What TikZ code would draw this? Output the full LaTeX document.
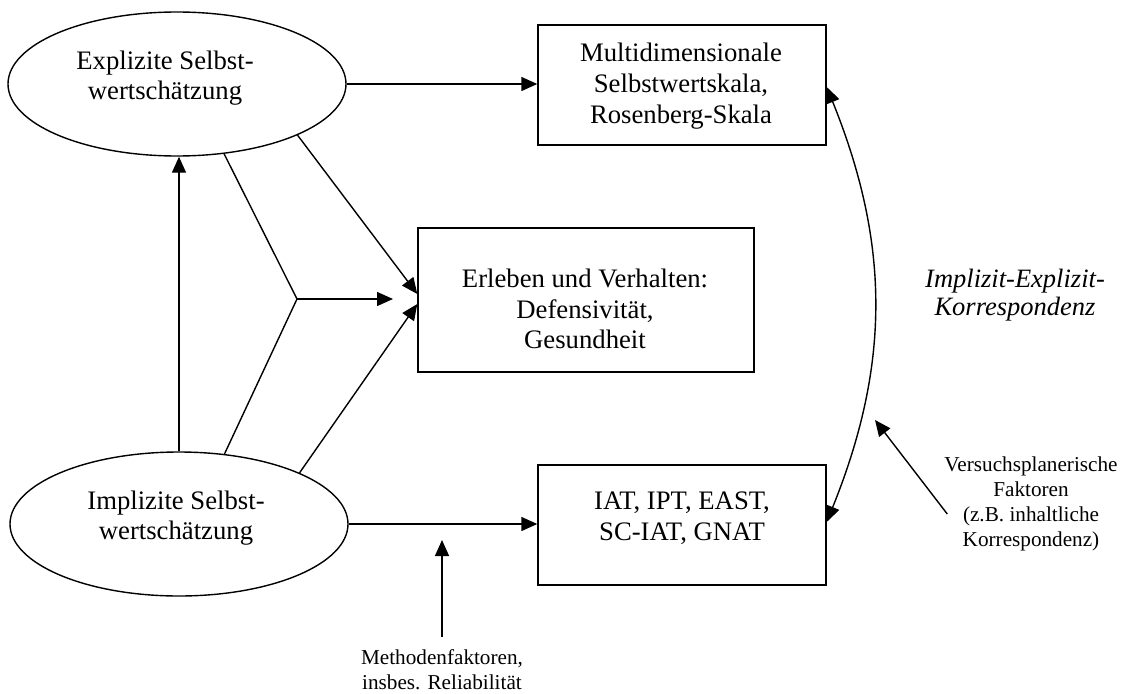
\documentclass[tikz,border=0pt]{standalone}
\usepackage{fontspec}
\setmainfont{Liberation Serif}
\usetikzlibrary{arrows.meta,shapes.geometric,calc}
\begin{document}
\begin{tikzpicture}[x=1pt,y=-1pt,
  lw/.style={line width=1.4pt},
  arr/.style={lw,-{Triangle[length=16pt,width=14pt]}},
  darr/.style={lw,{Triangle[length=16pt,width=14pt]}-{Triangle[length=16pt,width=14pt]}},
  ell/.style={draw,lw,ellipse,minimum width=338pt,minimum height=144pt,inner sep=0pt},
  boxs/.style={draw,lw,rectangle,inner sep=0pt},
  big/.style={align=center,font=\fontsize{26.7}{30.7}\selectfont,inner sep=0pt},
  small/.style={align=center,font=\fontsize{21.2}{25}\selectfont,inner sep=0pt}]
\useasboundingbox (0,0) rectangle (1123,693);
\fill[white] (0,0) rectangle (1123,693);
% shapes
\node[ell] (expl) at (177,84) {};
\node[big] (explt) at (165,78) {Explizite Selbst-\\wertschätzung};
\node[ell] (impl) at (179,524) {};
\node[big] (implt) at (176,518) {Implizite Selbst-\\wertschätzung};
\node[boxs,minimum width=288pt,minimum height=120pt] (multi) at (682,85) {};
\node[big] (multit) at (681,86) {Multidimensionale\\Selbstwertskala,\\Rosenberg-Skala};
\node[boxs,minimum width=336pt,minimum height=144pt] (erl) at (586,300) {};
\node[big] (erlt) at (585,309) {Erleben und Verhalten:\\Defensivität,\\Gesundheit};
\node[boxs,minimum width=288pt,minimum height=120pt] (iat) at (682,525) {};
\node[big] (iatt) at (682,518) {IAT, IPT, EAST,\\SC-IAT, GNAT};
\node[big,font={\fontsize{26.5}{27.5}\selectfont\itshape}] (korr) at (1015,295) {Implizit-Explizit-\\Korrespondenz};
\node[small] (vers) at (1031,504) {Versuchsplanerische\\Faktoren\\(z.B. inhaltliche\\Korrespondenz)};
\node[small] (meth) at (442,670) {Methodenfaktoren,\\insbes. Reliabilität};
% coordinates
\coordinate (J) at (297,299);
\coordinate (JE) at (393,299);
\coordinate (M) at (442,540);
\coordinate (V) at (875,420);
% connectors
\draw[arr] (expl.east) -- (expl.east -| multi.west);
\draw[arr] (impl.north) -- (impl.north |- expl.south);
\draw[lw] (expl.-56) -- (J) -- (impl.57);
\draw[arr] (J) -- (JE);
\draw[arr] (expl.-23) -- ([yshift=6pt]erl.west);
\draw[arr] (impl.23) -- ([yshift=-4pt]erl.west);
\draw[arr] (impl.east) -- (impl.east -| iat.west);
\draw[darr] ([yshift=-2pt]multi.east) to[bend left=22] ([yshift=3pt]iat.east);
\draw[arr] ([yshift=13pt]meth.north) -- (M);
\draw[arr] ([xshift=3pt,yshift=-10pt]vers.west) -- (V);
\end{tikzpicture}
\end{document}
